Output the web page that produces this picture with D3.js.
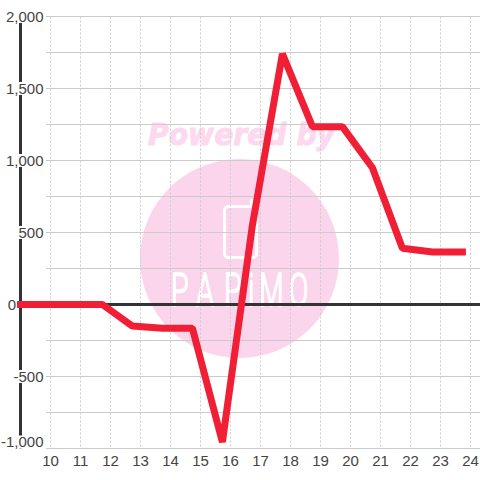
<!DOCTYPE html>
<html>
<head>
<meta charset="utf-8">
<script src="https://cdn.jsdelivr.net/npm/d3@7"></script>
<style>
    html, body { margin: 0; padding: 0; background: #fff; }
    svg { display: block; }
    text { font-family: "Liberation Sans", sans-serif; font-size: 15px; fill: #444; }
</style>
</head>
<body>
<svg id="chart" width="480" height="480"></svg>
<script>
// Values
const hours = [9, 9.73, 10.73, 11.73, 12.73, 13.73, 14.73, 15.73, 16.73, 17.73, 18.73, 19.73, 20.73, 21.73, 22.73, 23.73];
const values = [0, 0, 0, 0, -150, -165, -165, -955, 550, 1740, 1235, 1235, 950, 390, 365, 365];
const xTicks = [10, 11, 12, 13, 14, 15, 16, 17, 18, 19, 20, 21, 22, 23, 24];
const yTicks = [2000, 1500, 1000, 500, 0, -500, -1000];
const yGridTicks = [2000, 1750, 1500, 1250, 1000, 750, 500, 250, 0, -250, -500, -750, -1000];

const svg = d3.select("#chart");

// Scales
const x = d3.scaleLinear().domain([10, 24]).range([50.5, 470.5]);
const y = d3.scaleLinear().domain([-1000, 2000]).range([448.5, 16.5]);

// Watermark sits under the grid
const mark = svg.append("g");
mark.append("text")
    .attr("x", 148)
    .attr("y", 145)
    .attr("textLength", 187)
    .attr("lengthAdjust", "spacingAndGlyphs")
    .style("font-family", "'DejaVu Sans'")
    .style("font-size", "31px")
    .style("font-weight", "bold")
    .style("font-style", "italic")
    .style("fill", "#fcd9ee")
    .style("stroke", "#fcd9ee")
    .style("stroke-width", 1)
    .text("Powered by");
mark.append("circle")
    .attr("cx", 239.5)
    .attr("cy", 258.5)
    .attr("r", 99.5)
    .attr("fill", "#fbd5ec");
mark.append("rect")
    .attr("x", 224.5)
    .attr("y", 206.5)
    .attr("width", 32)
    .attr("height", 51)
    .attr("rx", 4)
    .attr("fill", "none")
    .attr("stroke", "#fff")
    .attr("stroke-width", 3);
mark.append("line")
    .attr("x1", 251.5)
    .attr("x2", 251.5)
    .attr("y1", 199)
    .attr("y2", 207)
    .attr("stroke", "#fff")
    .attr("stroke-width", 3);

// Logo lettering is a squeezed light face, each letter placed by hand
const logoScale = 0.62;
mark.append("text")
    .attr("transform", `translate(0,306) scale(${logoScale},1)`)
    .attr("x", [171, 196, 224, 248, 259, 289].map((d) => d / logoScale).join(" "))
    .attr("y", 0)
    .style("font-family", "Roboto")
    .style("font-size", "46px")
    .style("font-weight", 300)
    .style("fill", "#fff")
    .style("stroke", "#fff")
    .style("stroke-width", 1.6)
    .text("PAPiMO");

// Grid lines
const yGrid = svg.append("g")
    .attr("transform", "translate(46,0)")
    .call(d3.axisRight(y).offset(0).tickValues(yGridTicks).tickSize(434).tickFormat(""));
yGrid.select(".domain").remove();
yGrid.selectAll("line").attr("stroke", "#ccc");

const xGrid = svg.append("g")
    .attr("transform", "translate(0,16.5)")
    .call(d3.axisBottom(x).offset(0).tickValues(xTicks).tickSize(432).tickFormat(""));
xGrid.select(".domain").remove();
xGrid.selectAll("line")
    .attr("stroke", "#ccc")
    .attr("stroke-dasharray", "2,2");

// Thick left axis and zero line
svg.append("line")
    .attr("x1", 20.5)
    .attr("x2", 20.5)
    .attr("y1", y(2000))
    .attr("y2", y(-1000))
    .attr("stroke", "#333")
    .attr("stroke-width", 3);
svg.append("line")
    .attr("x1", 20.5)
    .attr("x2", 480)
    .attr("y1", y(0))
    .attr("y2", y(0))
    .attr("stroke", "#333")
    .attr("stroke-width", 3);

// Y labels, white boxes break the axis behind them
const labelY = (d) => (d === -1000 ? 442 : y(d));
const yLabels = svg.append("g").selectAll("g")
    .data(yTicks)
    .join("g")
    .attr("transform", (d) => `translate(${d === 0 ? 16 : 43.5},${labelY(d)})`);
yLabels.filter((d) => d !== 0)
    .append("rect")
    .attr("x", -41)
    .attr("y", -6.5)
    .attr("width", 43)
    .attr("height", 13)
    .attr("fill", "#fff");
yLabels.append("text")
    .attr("text-anchor", "end")
    .attr("dy", "0.36em")
    .text((d) => d3.format(",")(d).replace("\u2212", "-"));

// X labels
const xAxis = svg.append("g")
    .attr("transform", "translate(0,448.5)")
    .call(d3.axisBottom(x).offset(0).tickValues(xTicks).tickSize(0).tickPadding(7).tickFormat(d3.format("d")));
xAxis.select(".domain").remove();

// Red series line
const line = d3.line()
    .x((d, i) => x(hours[i]))
    .y((d) => y(d));
svg.append("path")
    .datum(values)
    .attr("d", line)
    .attr("fill", "none")
    .attr("stroke", "#f01f35")
    .attr("stroke-width", 7)
    .attr("stroke-linecap", "square")
    .attr("stroke-linejoin", "bevel");
</script>
</body>
</html>
